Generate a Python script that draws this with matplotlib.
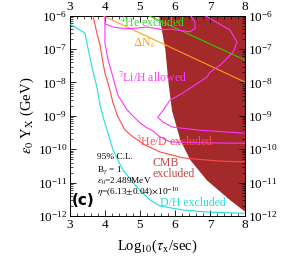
import numpy as np
import matplotlib
matplotlib.use("Agg")
import matplotlib.pyplot as plt
from matplotlib.ticker import MultipleLocator, LogLocator, NullFormatter

plt.rcParams['font.family'] = ['Liberation Serif', 'DejaVu Serif']
plt.rcParams['mathtext.fontset'] = 'stix'

# CMB excluded region: left boundary (log10 tau, log10 eps*Y)
cmb_x = [5.54, 5.71, 5.80, 5.90, 6.14, 6.43, 6.90, 7.57, 7.94, 8.0]
cmb_ly = [-6.0, -7.0, -8.0, -8.83, -9.72, -10.32, -10.92, -11.52, -11.82, -11.86]

# D/H excluded (cyan)
dh_x = [3.0, 3.43, 3.51, 3.63, 3.77, 3.86, 3.97, 4.06, 4.23, 4.51, 4.91, 5.29, 5.57, 6.23, 6.91, 8.0]
dh_ly = [-6.25, -6.52, -6.94, -7.54, -8.14, -8.67, -9.12, -9.42, -10.02, -10.62, -11.13, -11.52, -11.70, -11.82, -11.88, -11.92]

# 3He/D excluded (red)
he3_x = [3.66, 3.77, 3.86, 3.94, 4.0, 4.06, 4.14, 4.23, 4.37, 4.57, 4.8, 5.14, 5.57, 6.23, 7.2, 8.0]
he3_ly = [-6.0, -6.52, -6.88, -7.39, -7.72, -7.92, -8.22, -8.61, -9.03, -9.42, -9.63, -9.87, -10.08, -10.26, -10.35, -10.38]

# 7Li/H allowed contours (magenta)
li_a_x = [4.0, 4.0, 4.0, 4.09, 4.23, 4.37, 4.63, 4.91, 5.0, 5.2, 5.37, 5.57, 5.86, 6.91, 8.0]
li_a_ly = [-6.0, -6.43, -6.82, -7.33, -7.84, -8.38, -8.82, -9.12, -9.21, -9.36, -9.45, -9.63, -9.78, -9.81, -9.82]
li_b_x = [4.0, 4.23, 4.63, 4.91, 5.2, 5.49, 5.63, 5.86, 6.2, 6.43, 6.57, 6.57, 6.45]
li_b_ly = [-6.24, -6.34, -6.39, -6.37, -6.34, -6.39, -6.42, -6.40, -6.45, -6.48, -6.38, -6.2, -6.0]
li_c_x = [6.86, 7.57, 7.77, 7.66, 7.29, 7.0, 6.91, 6.23, 5.86, 5.66, 5.51, 5.66, 5.94, 6.71, 8.0]
li_c_ly = [-6.0, -6.43, -6.79, -7.09, -7.48, -7.69, -7.84, -8.31, -8.53, -8.83, -9.04, -9.19, -9.34, -9.43, -9.52]

# 4He excluded (green) and Delta N_nu (orange)
he4_x = [5.25, 8.0]
he4_ly = [-6.0, -7.33]
dnu_x = [3.94, 8.0]
dnu_ly = [-6.0, -7.99]

fig = plt.figure(figsize=(2.83, 2.78), dpi=100)
ax = fig.add_axes([0.247, 0.223, 0.619, 0.7205])
ax.set_yscale('log')

brown = '#a3292a'
ax.fill_betweenx(10.0 ** np.array(cmb_ly), cmb_x, 8.0, color=brown, lw=0, zorder=1)

ax.plot(he4_x, 10.0 ** np.array(he4_ly), color='#33cc00', lw=0.8, zorder=3)
ax.plot(dnu_x, 10.0 ** np.array(dnu_ly), color='#ff9f1a', lw=0.8, zorder=3)
ax.plot(dh_x, 10.0 ** np.array(dh_ly), color='#22dddd', lw=0.8, zorder=3)
ax.plot(he3_x, 10.0 ** np.array(he3_ly), color='#ff4a4a', lw=0.8, zorder=3)
for xs, ys in [(li_a_x, li_a_ly), (li_b_x, li_b_ly), (li_c_x, li_c_ly)]:
    ax.plot(xs, 10.0 ** np.array(ys), color='#ff33ff', lw=0.8, zorder=3)

ax.set_xlim(3, 8)
ax.set_ylim(1e-12, 1e-6)

fs = 9.5
lfs = 8.5
ax.text(4.43, 10 ** -6.2, r'$^4$He excluded', color='#33dd22', fontsize=lfs, va='center', zorder=4)
ax.text(4.8, 10 ** -6.8, r'$\Delta$N$_\nu$', color='#ff9f1a', fontsize=lfs, va='center', zorder=4)
ax.text(4.37, 10 ** -7.85, r'$^7$Li/H allowed', color='#ff33ff', fontsize=lfs, va='center', zorder=4)
ax.text(4.9, 10 ** -9.78, r'$^3$He/D excluded', color='#ff4a4a', fontsize=lfs, va='center', zorder=4)
ax.text(5.37, 10 ** -10.42, 'CMB', color='#c04848', fontsize=lfs, va='center', zorder=4)
ax.text(5.37, 10 ** -10.74, 'excluded', color='#c04848', fontsize=lfs, va='center', zorder=4)
ax.text(5.57, 10 ** -11.62, 'D/H excluded', color='#22dddd', fontsize=lfs, va='center', zorder=4)

sfs = 6.7
ax.text(3.77, 10 ** -10.23, '95% C.L.', fontsize=sfs, va='center')
ax.text(3.77, 10 ** -10.61, r'B$_\gamma$ = 1', fontsize=sfs, va='center')
ax.text(3.77, 10 ** -10.97, r'$\varepsilon_0$=2.489MeV', fontsize=sfs, va='center')
ax.text(3.77, 10 ** -11.31, r'$\eta$=(6.13$\pm$0.04)$\times$10$^{-10}$', fontsize=sfs, va='center')
ax.text(3.06, 10 ** -11.55, '(c)', fontsize=11, fontweight='bold', family='DejaVu Sans', va='center')

ax.xaxis.set_major_locator(MultipleLocator(1))
ax.xaxis.set_minor_locator(MultipleLocator(0.2))
ax.yaxis.set_major_locator(LogLocator(base=10, numticks=10))
ax.yaxis.set_minor_locator(LogLocator(base=10, subs=np.arange(2, 10), numticks=20))
ax.yaxis.set_minor_formatter(NullFormatter())
ax.tick_params(which='both', direction='in', top=True, right=True, labeltop=True, labelright=True,
               labelsize=fs, pad=2)
ax.tick_params(which='major', length=4, width=0.6)
ax.tick_params(which='minor', length=2, width=0.5)
for s in ax.spines.values():
    s.set_linewidth(0.7)

ax.set_xlabel(r'Log$_{10}$($\tau_{\rm x}$/sec)', fontsize=10.5, labelpad=5)
ax.set_ylabel(r'$\varepsilon_0$ Y$_{\rm X}$ (GeV)', fontsize=10.5, labelpad=1)

fig.savefig('out.png', dpi=100)
